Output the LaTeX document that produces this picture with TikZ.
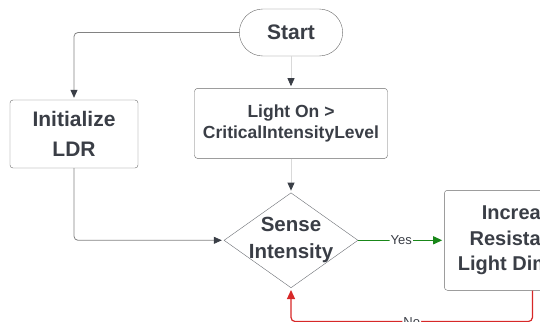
\documentclass[tikz,border=0pt]{standalone}
\usepackage{fontspec}
\setmainfont{Liberation Sans}
\usetikzlibrary{shapes.geometric,shapes.misc,arrows.meta,positioning,calc}
\definecolor{inkgray}{RGB}{58,62,70}
\definecolor{linegray}{RGB}{130,130,130}
\definecolor{boxgray}{RGB}{105,105,105}
\definecolor{yesgreen}{RGB}{25,135,25}
\definecolor{nored}{RGB}{215,40,40}

\begin{document}
\begin{tikzpicture}[
        x=1pt, y=1pt,
        node distance=30pt,
        terminal/.style={rounded rectangle, draw=boxgray, fill=white, minimum width=110pt, minimum height=47pt, text=inkgray, font=\fontsize{21}{25}\selectfont\bfseries},
        process/.style={rectangle, rounded corners=3pt, draw=boxgray, fill=white, align=center, inner sep=0pt, text=inkgray},
        decision/.style={diamond, draw=inkgray!75, fill=white, minimum width=134pt, minimum height=95pt, inner sep=0pt},
        flow/.style={draw=linegray, line width=0.8pt, rounded corners=4pt, -{Triangle[length=8pt,width=7pt,color=inkgray]}, shorten >=2pt},
        faint/.style={flow, draw=linegray!30},
        lbl/.style={fill=white, inner sep=1pt, text=inkgray, font=\fontsize{13}{13}\selectfont}
    ]
        \useasboundingbox (0,0) rectangle (540,-321);
        \clip (0,0) rectangle (540,-321);

        % Nodes
        \node[terminal] (START) at (291,-32.5) {Start};
        \node[process, below=32pt of START, minimum width=193pt, minimum height=70pt, font=\fontsize{17.5}{20.5}\selectfont\bfseries] (LIGHT) {Light On >\\CriticalIntensityLevel};
        \node[decision, below=34pt of LIGHT, label={[align=center, text=inkgray, font=\fontsize{20.5}{27}\selectfont\bfseries]center:Sense\\Intensity}] (SENSE) {};
        \node[process, minimum width=128pt, minimum height=68pt, font=\fontsize{21}{30}\selectfont\bfseries] (INIT) at (74,-134) {Initialize\\LDR};
        \node[process, right=86pt of SENSE, minimum width=156pt, minimum height=100pt, font=\fontsize{20}{25.5}\selectfont\bfseries] (INCR) {Increase\\Resistance\\Light Dimmer};

        % Connectors
        \draw[flow] (START.west) -| (INIT.north);
        \draw[flow] (INIT.south) |- (SENSE.west);
        \draw[faint] (START.south) -- (LIGHT.north);
        \draw[faint] (LIGHT.south) -- (SENSE.north);
        \draw[flow, draw=yesgreen, line width=1.2pt, -{Triangle[length=9pt,width=8pt,color=yesgreen]}] (SENSE.east) -- node[lbl]{Yes} (INCR.west);

        \coordinate (NOTOP) at ([xshift=10pt]INCR.south);
        \coordinate (NOCORNER) at ($(NOTOP)+(0,-31)$);
        \draw[flow, draw=nored, line width=1.2pt, -{Triangle[length=9pt,width=8pt,color=nored]}] (NOTOP) -- (NOCORNER) -- node[lbl, yshift=-1pt]{No} (NOCORNER -| SENSE.south) -- (SENSE.south);

    \end{tikzpicture}
\end{document}
